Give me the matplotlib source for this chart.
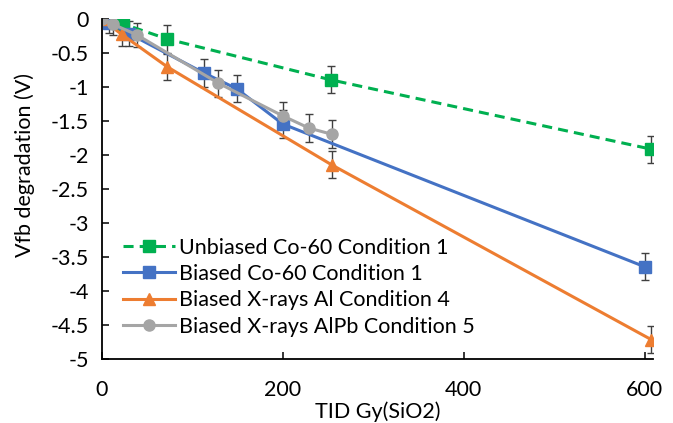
import matplotlib
matplotlib.use("Agg")
import matplotlib.pyplot as plt
from matplotlib.lines import Line2D

plt.rcParams['font.family'] = ['Lato', 'DejaVu Sans']
plt.rcParams['axes.unicode_minus'] = False

# Data
unb_co_x = [0, 24, 72.5, 253, 607]
unb_co_y = [0, -0.07, -0.29, -0.89, -1.91]
unb_co_e = [0, 0.1, 0.2, 0.2, 0.2]

bia_co_x = [0, 8, 30, 113, 149, 200, 600]
bia_co_y = [0, -0.05, -0.21, -0.79, -1.02, -1.54, -3.64]
bia_co_e = [0, 0.15, 0.18, 0.2, 0.2, 0.2, 0.2]

xal_x = [0, 22, 72.5, 254, 607]
xal_y = [0, -0.22, -0.70, -2.14, -4.71]
xal_e = [0, 0.18, 0.19, 0.2, 0.2]

xalpb_x = [0, 12, 39, 129, 200, 229, 254]
xalpb_y = [0, -0.07, -0.23, -0.94, -1.42, -1.60, -1.69]
xalpb_e = [0, 0.16, 0.18, 0.2, 0.2, 0.21, 0.21]

labels = ["Unbiased Co-60 Condition 1", "Biased Co-60 Condition 1",
          "Biased X-rays Al Condition 4", "Biased X-rays AlPb Condition 5"]
xticks = [0, 200, 400, 600]
yticks = [0, -0.5, -1, -1.5, -2, -2.5, -3, -3.5, -4, -4.5, -5]
ytick_labels = ["0", "-0.5", "-1", "-1.5", "-2", "-2.5", "-3", "-3.5", "-4", "-4.5", "-5"]

FS = 15.5

fig = plt.figure(figsize=(6.73, 4.23), dpi=100)
ax = fig.add_axes([0.1511, 0.1506, 0.8192, 0.8038])

err_kw = dict(ecolor='#404040', elinewidth=1.0, capsize=3.0, capthick=1.0)

styles = [
    dict(color='#00B050', lw=2.2, dashes=(3.3, 2.0), marker='s', ms=8.5),
    dict(color='#4472C4', lw=2.2, marker='s', ms=8.5),
    dict(color='#ED7D31', lw=2.2, marker='^', ms=9),
    dict(color='#A5A5A5', lw=2.2, marker='o', ms=8),
]

series = [(unb_co_x, unb_co_y, unb_co_e), (bia_co_x, bia_co_y, bia_co_e),
          (xal_x, xal_y, xal_e), (xalpb_x, xalpb_y, xalpb_e)]

handles = []
for (x, y, e), st, lab in zip(series, styles, labels):
    ax.errorbar(x, y, yerr=e, **st, **err_kw)
    handles.append(Line2D([], [], label=lab, **st))

ax.set_xlim(0, 609)
ax.set_ylim(-5, 0)
ax.set_xticks(xticks)
ax.set_xticklabels([str(t) for t in xticks])
ax.set_yticks(yticks)
ax.set_yticklabels(ytick_labels)

for s in ['top', 'right']:
    ax.spines[s].set_visible(False)
for s in ['left', 'bottom']:
    ax.spines[s].set_linewidth(1.3)
    ax.spines[s].set_color('black')

ax.tick_params(axis='both', direction='in', length=5, width=1.1, labelsize=FS,
               colors='black')
ax.tick_params(axis='x', pad=15)
ax.tick_params(axis='y', pad=9)

ax.set_xlabel("TID Gy(SiO2)", fontsize=FS)
ax.set_ylabel("Vfb degradation (V)", fontsize=FS)
ax.xaxis.set_label_coords(0.5, -0.125)
ax.yaxis.set_label_coords(-0.121, 0.571)

leg = ax.legend(handles=handles, loc='center left', bbox_to_anchor=(0.0386, 0.212),
                frameon=False, fontsize=FS, handlelength=2.4, handletextpad=0.22,
                labelspacing=0.30, borderaxespad=0.0, borderpad=0.0)

fig.savefig("out.png", dpi=100)
